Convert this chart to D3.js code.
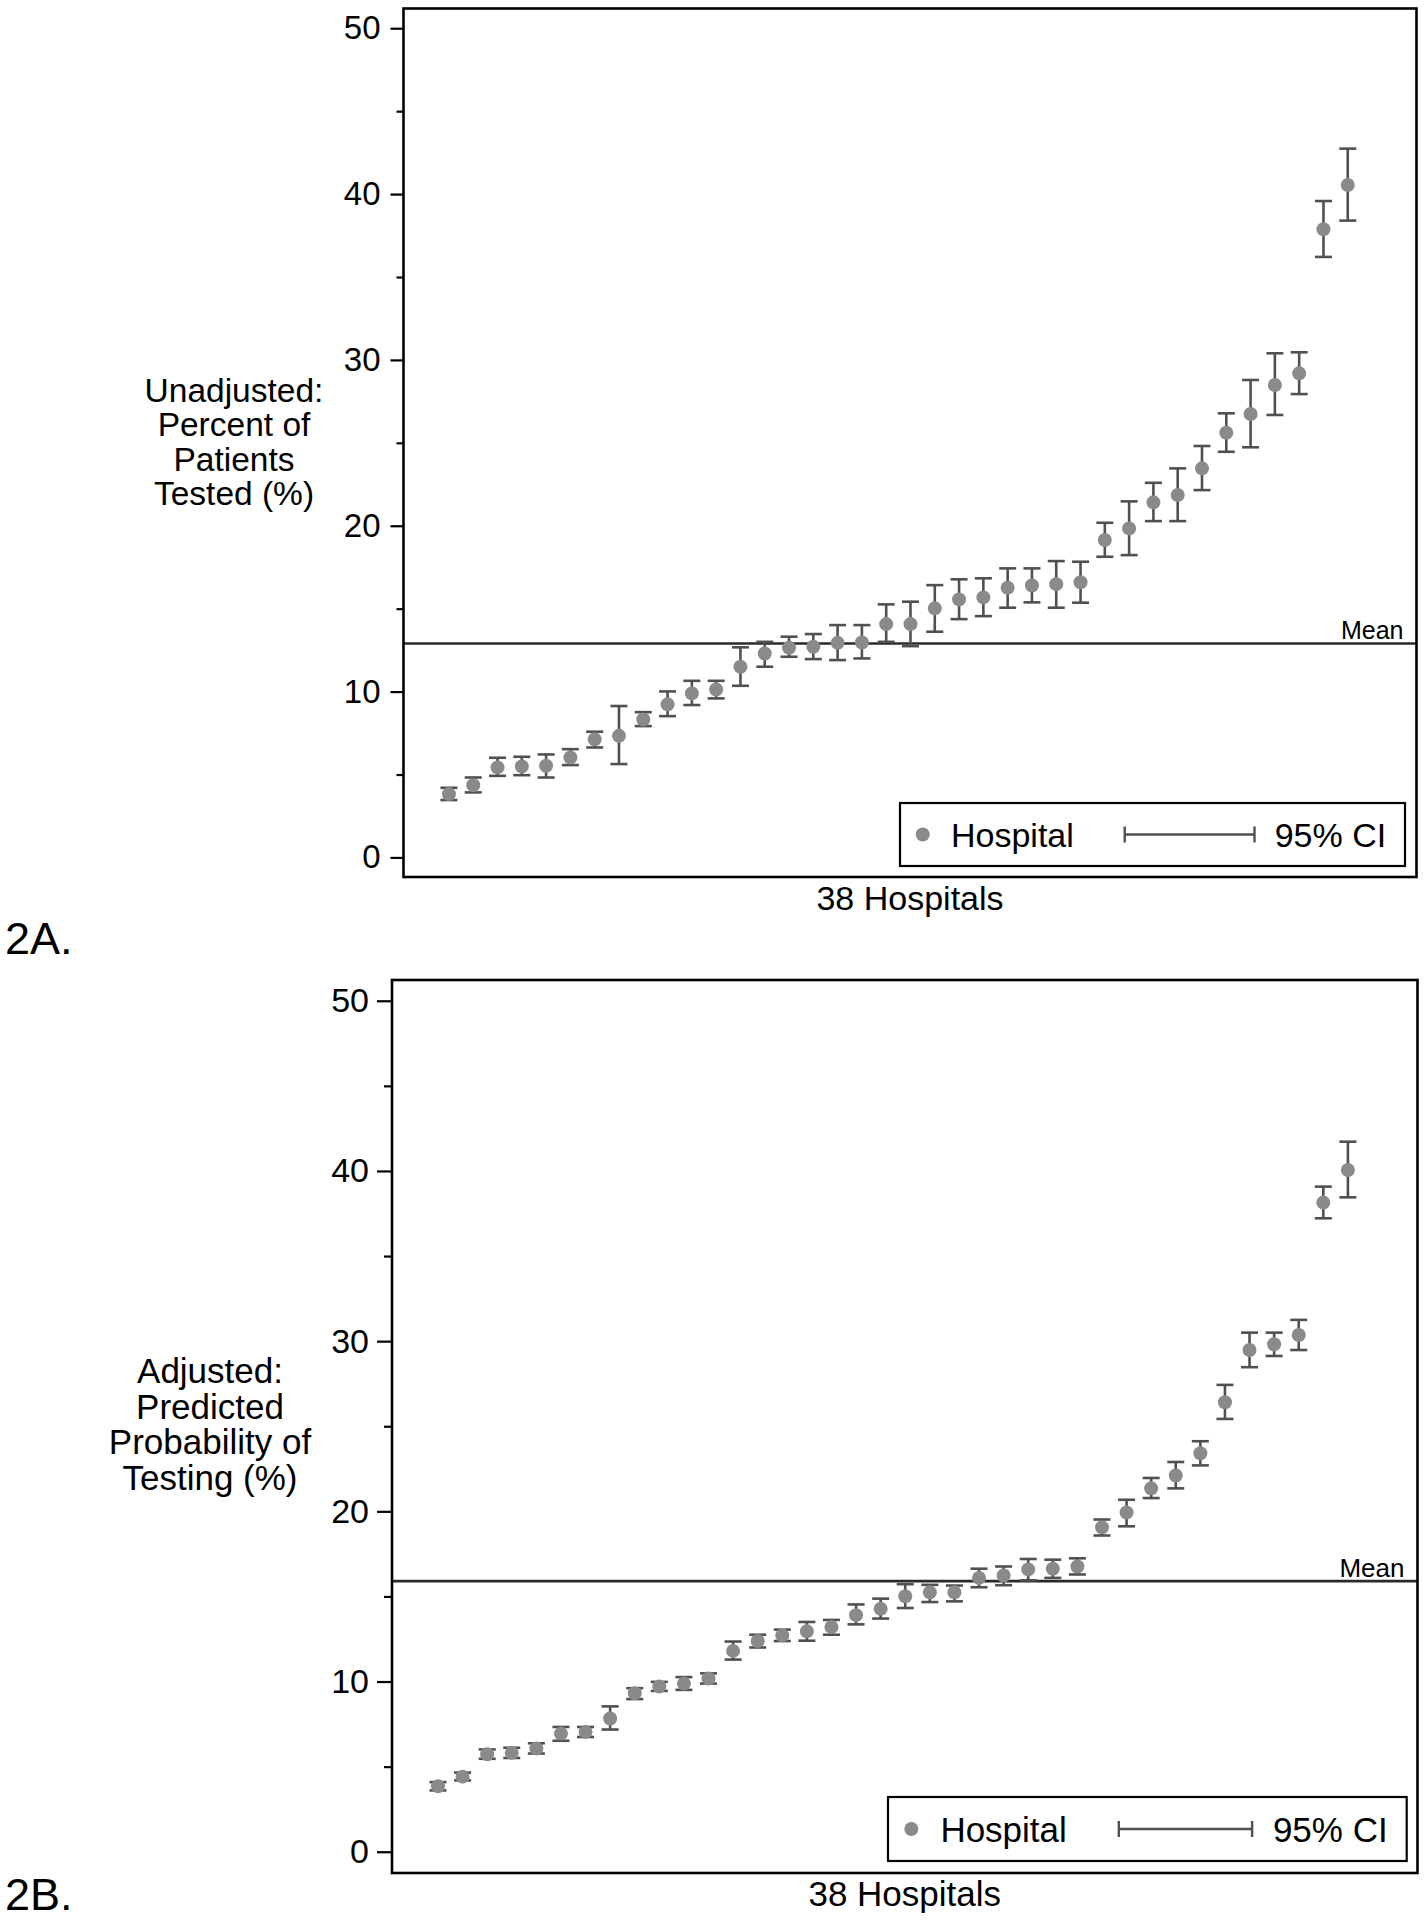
<!DOCTYPE html>
<html>
<head>
<meta charset="utf-8">
<script src="https://cdn.jsdelivr.net/npm/d3@7"></script>
<style>
  html, body { margin: 0; padding: 0; background: #fff; }
  svg { display: block; }
  text { font-family: "Liberation Sans", Arial, sans-serif; fill: #000; }
</style>
</head>
<body>
<svg id="chart" width="1428" height="1920"></svg>
<script>
// ---------------- DATA ----------------
const hospitals = d3.range(1, 39); // 38 hospitals, ranked

// 2A. Unadjusted: percent of patients tested (%)
const unadjEstimate = [3.82, 4.36, 5.43, 5.49, 5.53, 6.03, 7.12, 7.33, 8.32, 9.23, 9.89, 10.13, 11.50, 12.30, 12.64, 12.70, 12.94, 12.96, 14.07, 14.07, 15.02, 15.56, 15.68, 16.26, 16.40, 16.48, 16.59, 19.14, 19.84, 21.41, 21.85, 23.46, 25.61, 26.74, 28.49, 29.19, 37.88, 40.55];
const unadjLower    = [3.46, 3.92, 4.92, 4.96, 4.82, 5.57, 6.63, 5.63, 7.92, 8.52, 9.19, 9.59, 10.35, 11.50, 12.10, 11.96, 11.90, 12.00, 13.00, 12.74, 13.61, 14.37, 14.55, 15.06, 15.38, 15.06, 15.36, 18.13, 18.23, 20.28, 20.28, 22.15, 24.46, 24.73, 26.68, 27.94, 36.21, 38.40];
const unadjUpper    = [4.20, 4.82, 6.01, 6.07, 6.21, 6.53, 7.58, 9.13, 8.76, 10.01, 10.65, 10.65, 12.67, 13.00, 13.31, 13.47, 14.01, 14.01, 15.26, 15.42, 16.42, 16.77, 16.83, 17.43, 17.43, 17.87, 17.83, 20.18, 21.47, 22.59, 23.46, 24.81, 26.78, 28.79, 30.40, 30.46, 39.58, 42.74];
const unadjMean = 12.9;

// 2B. Adjusted: predicted probability of testing (%)
const adjEstimate = [3.85, 4.41, 5.73, 5.81, 6.07, 6.94, 7.04, 7.83, 9.31, 9.71, 9.88, 10.18, 11.80, 12.38, 12.71, 12.95, 13.20, 13.90, 14.27, 15.01, 15.24, 15.24, 16.09, 16.23, 16.59, 16.63, 16.76, 19.06, 19.93, 21.35, 22.11, 23.41, 26.41, 29.48, 29.82, 30.36, 38.14, 40.06];
const adjLower    = [3.60, 4.19, 5.46, 5.51, 5.77, 6.52, 6.74, 7.18, 8.97, 9.45, 9.51, 9.88, 11.29, 12.00, 12.38, 12.40, 12.75, 13.36, 13.70, 14.32, 14.67, 14.71, 15.54, 15.66, 15.95, 16.09, 16.29, 18.58, 19.12, 20.78, 21.35, 22.70, 25.43, 28.47, 29.13, 29.48, 37.22, 38.45];
const adjUpper    = [4.09, 4.65, 6.01, 6.11, 6.37, 7.33, 7.33, 8.54, 9.61, 9.98, 10.26, 10.48, 12.35, 12.75, 13.05, 13.50, 13.62, 14.53, 14.87, 15.72, 15.68, 15.64, 16.63, 16.76, 17.20, 17.16, 17.24, 19.52, 20.68, 21.96, 22.90, 24.12, 27.43, 30.50, 30.50, 31.25, 39.08, 41.72];
const adjMean = 15.9;

const majorTicks = [0, 10, 20, 30, 40, 50];
const minorTicks = [5, 15, 25, 35, 45];
const xAxisLabel = "38 Hospitals";
const meanLabel = "Mean";
const legendLabels = ["Hospital", "95% CI"];
const titleA = ["Unadjusted:", "Percent of", "Patients", "Tested (%)"];
const titleB = ["Adjusted:", "Predicted", "Probability of", "Testing (%)"];

// ---------------- LAYOUT ----------------
const panels = [
  { est: unadjEstimate, lo: unadjLower, hi: unadjUpper, mean: unadjMean, title: titleA, tag: "2A.",
    left: 403.5, top: 8.5, right: 1416.5, bottom: 877, yDom: [-1.18, 51.19],
    titleX: 234, titleY: 402, titleDy: 34.4, titleFont: 33.5, font: 34, tickFont: 33, tickMajor: 13, tickMinor: 7, tickPad: 10,
    legend: { x0: 900, x1: 1405, y0: 803, y1: 866 }, tagY: 954, meanFont: 25 },
  { est: adjEstimate, lo: adjLower, hi: adjUpper, mean: adjMean, title: titleB, tag: "2B.",
    left: 392, top: 980, right: 1417.5, bottom: 1873, yDom: [-1.25, 51.22],
    titleX: 210, titleY: 1383, titleDy: 35.7, titleFont: 35, font: 35, tickFont: 34, tickMajor: 15, tickMinor: 8, tickPad: 8,
    legend: { x0: 888, x1: 1406.7, y0: 1797, y1: 1861 }, tagY: 1910, meanFont: 26 }
];

const dotColor = "#8a8a8a";
const barColor = "#505050";
const svg = d3.select("#chart");

panels.forEach(p => {
  const g = svg.append("g");
  const x = d3.scaleLinear().domain([-0.87, 40.83]).range([p.left, p.right]);
  const y = d3.scaleLinear().domain(p.yDom).range([p.bottom, p.top]);

  // minor ticks
  g.append("g")
    .attr("transform", `translate(${p.left},0)`)
    .call(d3.axisLeft(y).tickValues(minorTicks).tickSize(p.tickMinor).tickFormat(""))
    .call(s => s.select(".domain").remove())
    .call(s => s.selectAll("line").attr("stroke", "#000").attr("stroke-width", 2.2));

  // major ticks with labels
  g.append("g")
    .attr("transform", `translate(${p.left},0)`)
    .call(d3.axisLeft(y).tickValues(majorTicks).tickSize(p.tickMajor).tickPadding(p.tickPad).tickFormat(d3.format("d")))
    .call(s => s.select(".domain").remove())
    .call(s => s.selectAll("line").attr("stroke", "#000").attr("stroke-width", 2.2))
    .call(s => s.selectAll("text")
      .attr("font-family", "'Liberation Sans', Arial, sans-serif")
      .attr("font-size", p.tickFont).attr("fill", "#000"));

  // mean line
  g.append("line")
    .attr("x1", p.left).attr("x2", p.right)
    .attr("y1", y(p.mean)).attr("y2", y(p.mean))
    .attr("stroke", "#2a2a2a").attr("stroke-width", 2.6);
  g.append("text")
    .attr("x", p.right - 13).attr("y", y(p.mean) - 4)
    .attr("text-anchor", "end").attr("font-size", p.meanFont)
    .text(meanLabel);

  // error bars
  const cap = 8.5;
  const bars = g.append("g").attr("stroke", barColor).attr("stroke-width", 2.6);
  hospitals.forEach((h, i) => {
    const cx = x(h);
    bars.append("line").attr("x1", cx).attr("x2", cx).attr("y1", y(p.lo[i])).attr("y2", y(p.hi[i]));
    bars.append("line").attr("x1", cx - cap).attr("x2", cx + cap).attr("y1", y(p.lo[i])).attr("y2", y(p.lo[i]));
    bars.append("line").attr("x1", cx - cap).attr("x2", cx + cap).attr("y1", y(p.hi[i])).attr("y2", y(p.hi[i]));
  });

  // points
  g.append("g").selectAll("circle")
    .data(hospitals)
    .join("circle")
    .attr("cx", d => x(d))
    .attr("cy", (d, i) => y(p.est[i]))
    .attr("r", 7)
    .attr("fill", dotColor);

  // frame
  g.append("rect")
    .attr("x", p.left).attr("y", p.top)
    .attr("width", p.right - p.left).attr("height", p.bottom - p.top)
    .attr("fill", "none").attr("stroke", "#000").attr("stroke-width", 2.6);

  // x axis label
  g.append("text")
    .attr("x", (p.left + p.right) / 2).attr("y", p.bottom + 33)
    .attr("text-anchor", "middle").attr("font-size", p.font)
    .text(xAxisLabel);

  // y axis title (one text element, one tspan per line)
  const tt = g.append("text")
    .attr("x", p.titleX).attr("y", p.titleY)
    .attr("text-anchor", "middle").attr("font-size", p.titleFont);
  p.title.forEach((t, k) => {
    tt.append("tspan")
      .attr("x", p.titleX)
      .attr("dy", k === 0 ? 0 : p.titleDy)
      .text(t);
  });

  // legend
  const L = p.legend, W = L.x1 - L.x0, cy = (L.y0 + L.y1) / 2;
  g.append("rect")
    .attr("x", L.x0).attr("y", L.y0).attr("width", W).attr("height", L.y1 - L.y0)
    .attr("fill", "#fff").attr("stroke", "#000").attr("stroke-width", 2.2);
  g.append("circle").attr("cx", L.x0 + 0.045 * W).attr("cy", cy).attr("r", 7).attr("fill", dotColor);
  g.append("text").attr("x", L.x0 + 0.101 * W).attr("y", cy + p.font * 0.36)
    .attr("font-size", p.font).text(legendLabels[0]);
  const lx0 = L.x0 + 0.445 * W, lx1 = L.x0 + 0.702 * W;
  const lg = g.append("g").attr("stroke", barColor).attr("stroke-width", 2.4);
  lg.append("line").attr("x1", lx0).attr("x2", lx1).attr("y1", cy).attr("y2", cy);
  lg.append("line").attr("x1", lx0).attr("x2", lx0).attr("y1", cy - 8).attr("y2", cy + 8);
  lg.append("line").attr("x1", lx1).attr("x2", lx1).attr("y1", cy - 8).attr("y2", cy + 8);
  g.append("text").attr("x", L.x0 + 0.742 * W).attr("y", cy + p.font * 0.36)
    .attr("font-size", p.font).text(legendLabels[1]);

  // panel tag
  g.append("text")
    .attr("x", 5).attr("y", p.tagY)
    .attr("font-family", "'Open Sans', 'Noto Sans', sans-serif")
    .attr("font-size", 45)
    .text(p.tag);
});
</script>
</body>
</html>
